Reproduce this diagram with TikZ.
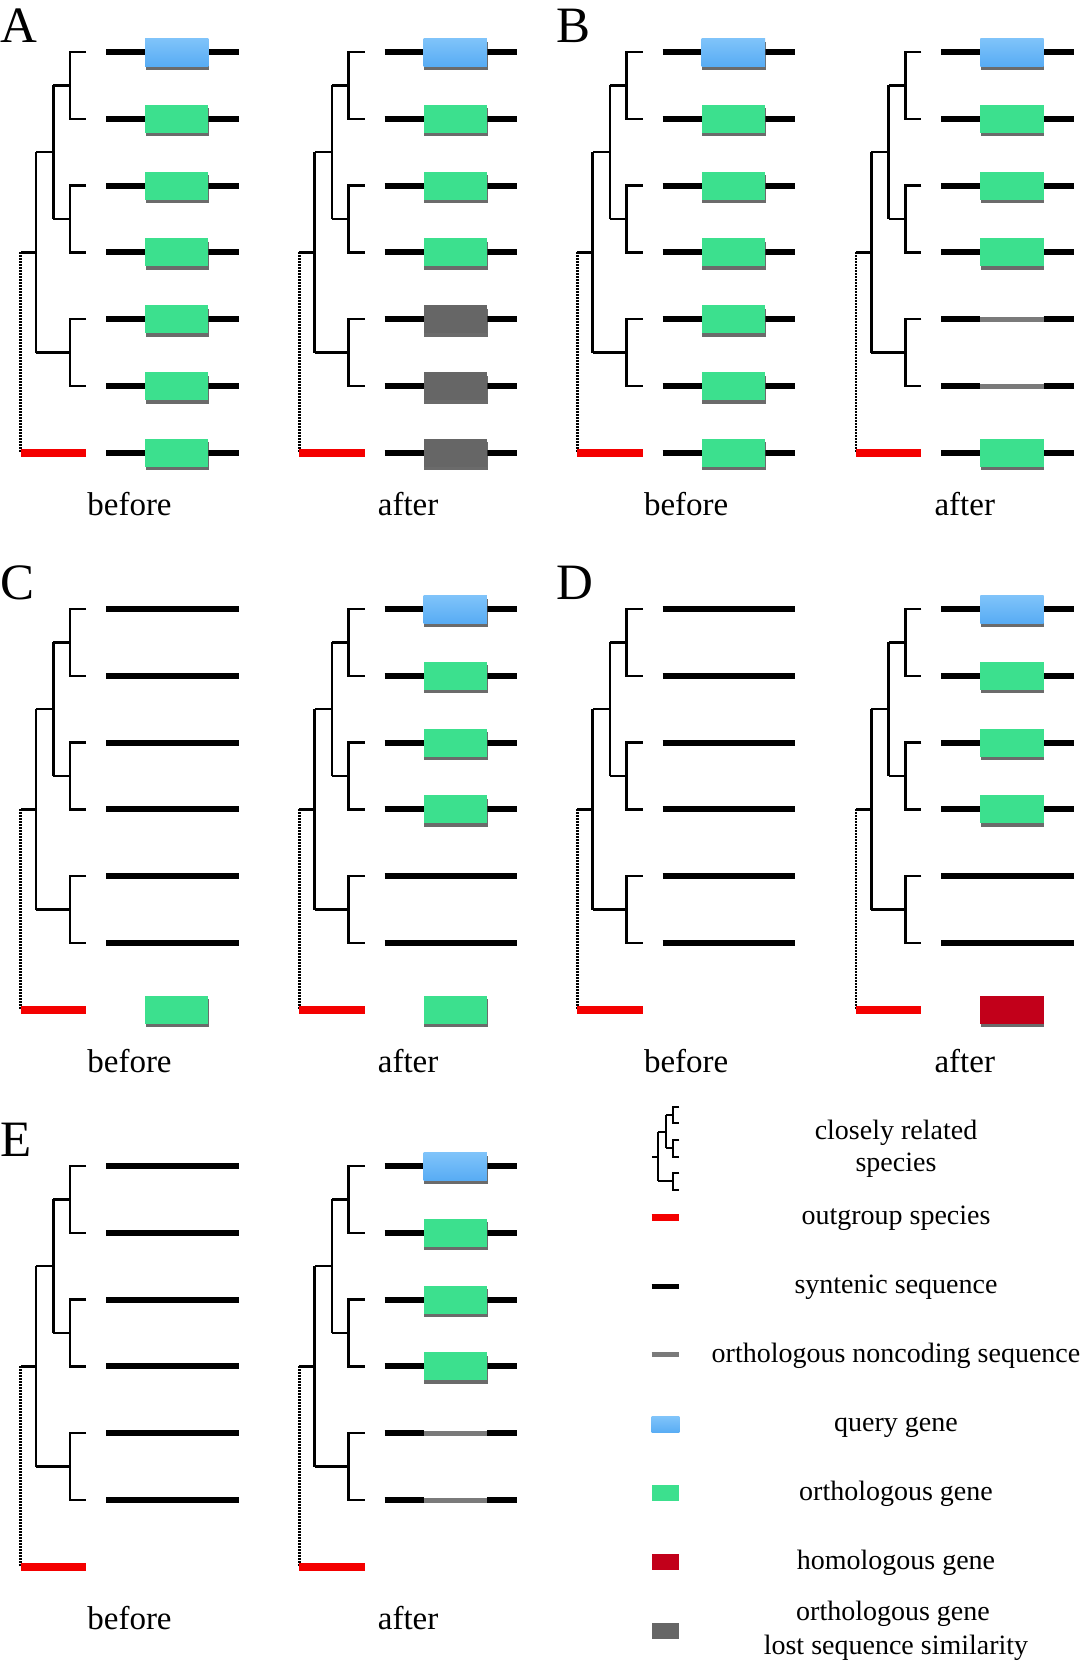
\documentclass[tikz,border=0pt]{standalone}
\usepackage{fontspec}
\setmainfont{Liberation Serif}
\usetikzlibrary{shadows}
\definecolor{qblue}{HTML}{58ACF4}
\definecolor{qbluetop}{HTML}{80C4FA}
\definecolor{ogreen}{HTML}{3CE08E}
\definecolor{lgray}{HTML}{666666}
\definecolor{hred}{HTML}{C2001A}
\definecolor{ncgray}{HTML}{7A7A7A}
\definecolor{ored}{HTML}{F40000}
\definecolor{shadowc}{HTML}{3A3A3A}
\tikzset{
 treeline/.style={line width=2.5pt, line join=miter},
 legtree/.style={line width=2pt, line join=miter},
 seqline/.style={line width=6pt},
 ncline/.style={line width=5pt, ncgray},
 outline/.style={line width=8pt, ored},
 dotline/.style={line width=2.6pt, dash pattern=on 1.6pt off 1.4pt},
 genebox/.style={drop shadow={shadow xshift=0.6pt, shadow yshift=-3.5pt, opacity=0.75, fill=shadowc}},
 querybox/.style={genebox, top color=qbluetop, bottom color=qblue},
 orthobox/.style={genebox, fill=ogreen},
 lostbox/.style={genebox, fill=lgray},
 homobox/.style={genebox, fill=hred},
 panellabel/.style={font=\fontsize{51}{51}\selectfont, anchor=base west, inner sep=0pt},
 statelabel/.style={font=\fontsize{33}{33}\selectfont, anchor=base, inner sep=0pt},
 legendtext/.style={font=\fontsize{28}{28}\selectfont, anchor=base, inner sep=0pt},
}
% rows
\def\rA{52}\def\rB{118.8}\def\rC{185.6}\def\rD{252.4}\def\rE{319.2}\def\rF{386}\def\rG{452.8}
\newcommand\phylo{%
 \draw[treeline] (86,\rA) -- (70,\rA) -- (70,\rB) -- (86,\rB);
 \draw[treeline] (70,85.4) -- (53.3,85.4);
 \draw[treeline] (86,\rC) -- (70,\rC) -- (70,\rD) -- (86,\rD);
 \draw[treeline] (70,219) -- (53.3,219);
 \draw[treeline] (53.3,85.4) -- (53.3,219);
 \draw[treeline] (53.3,152.2) -- (36,152.2);
 \draw[treeline] (86,\rE) -- (70,\rE) -- (70,\rF) -- (86,\rF);
 \draw[treeline] (70,352.6) -- (36,352.6);
 \draw[treeline] (36,152.2) -- (36,352.6);
 \draw[treeline] (36,252.4) -- (20.7,252.4);
 \draw[dotline] (20.7,252.4) -- (20.7,\rG);
 \draw[outline] (20.7,\rG) -- (86,\rG);
}
\newcommand\seqat[1]{\draw[seqline] (106,#1) -- (238.7,#1);}
\newcommand\geneat[2]{\path[#2] (145,#1-14) rectangle (208.3,#1+14);}
\newcommand\ncseq[1]{\draw[seqline] (106,#1) -- (145,#1);\draw[ncline] (145,#1) -- (208.3,#1);\draw[seqline] (208.3,#1) -- (238.7,#1);}
\newcommand\fourseq{\seqat{\rA}\seqat{\rB}\seqat{\rC}\seqat{\rD}}
\newcommand\sixseq{\fourseq\seqat{\rE}\seqat{\rF}}
\newcommand\topgenes{\geneat{\rA}{querybox}\geneat{\rB}{orthobox}\geneat{\rC}{orthobox}\geneat{\rD}{orthobox}}
\begin{document}
\begin{tikzpicture}[x=1pt,y=-1pt]
\useasboundingbox[fill=white] (0,0) rectangle (1080,1663);
% ---------- Panel A
\begin{scope}[shift={(0,0)}]
 \phylo \sixseq \seqat{\rG}
 \topgenes \geneat{\rE}{orthobox}\geneat{\rF}{orthobox}\geneat{\rG}{orthobox}
\end{scope}
\begin{scope}[shift={(278.6,0)}]
 \phylo \sixseq \seqat{\rG}
 \topgenes \geneat{\rE}{lostbox}\geneat{\rF}{lostbox}\geneat{\rG}{lostbox}
\end{scope}
% ---------- Panel B
\begin{scope}[shift={(556.7,0)}]
 \phylo \sixseq \seqat{\rG}
 \topgenes \geneat{\rE}{orthobox}\geneat{\rF}{orthobox}\geneat{\rG}{orthobox}
\end{scope}
\begin{scope}[shift={(835.3,0)}]
 \phylo \fourseq \ncseq{\rE}\ncseq{\rF} \seqat{\rG}
 \topgenes \geneat{\rG}{orthobox}
\end{scope}
% ---------- Panel C
\begin{scope}[shift={(0,557)}]
 \phylo \sixseq \geneat{\rG}{orthobox}
\end{scope}
\begin{scope}[shift={(278.6,557)}]
 \phylo \sixseq \topgenes \geneat{\rG}{orthobox}
\end{scope}
% ---------- Panel D
\begin{scope}[shift={(556.7,557)}]
 \phylo \sixseq
\end{scope}
\begin{scope}[shift={(835.3,557)}]
 \phylo \sixseq \topgenes \geneat{\rG}{homobox}
\end{scope}
% ---------- Panel E
\begin{scope}[shift={(0,1114)}]
 \phylo \sixseq
\end{scope}
\begin{scope}[shift={(278.6,1114)}]
 \phylo \fourseq \ncseq{\rE}\ncseq{\rF} \topgenes
\end{scope}
% ---------- labels
\node[panellabel] (labA) at (0,42) {A};
\node[panellabel] (labB) at (556.7,42) {B};
\node[panellabel] (labC) at (0,599) {C};
\node[panellabel] (labD) at (556.7,599) {D};
\node[panellabel] (labE) at (0,1156) {E};
\node[statelabel] (Abef) at (129.5,515) {before};
\node[statelabel] (Aaft) at (408.1,515) {after};
\node[statelabel] (Bbef) at (686.2,515) {before};
\node[statelabel] (Baft) at (964.8,515) {after};
\node[statelabel] (Cbef) at (129.5,1072) {before};
\node[statelabel] (Caft) at (408.1,1072) {after};
\node[statelabel] (Dbef) at (686.2,1072) {before};
\node[statelabel] (Daft) at (964.8,1072) {after};
\node[statelabel] (Ebef) at (129.5,1629) {before};
\node[statelabel] (Eaft) at (408.1,1629) {after};
% ---------- legend
\draw[legtree] (679.3,1106.5) -- (673.3,1106.5) -- (673.3,1123.2) -- (679.3,1123.2);
\draw[legtree] (673.3,1114.85) -- (666,1114.85);
\draw[legtree] (679.3,1139.8) -- (673.3,1139.8) -- (673.3,1156.5) -- (679.3,1156.5);
\draw[legtree] (673.3,1148.15) -- (666,1148.15);
\draw[legtree] (666,1114.85) -- (666,1148.15);
\draw[legtree] (666,1131.5) -- (658.3,1131.5);
\draw[legtree] (679.3,1173.1) -- (673.3,1173.1) -- (673.3,1189.8) -- (679.3,1189.8);
\draw[legtree] (673.3,1181.45) -- (658.3,1181.45);
\draw[legtree] (658.3,1131.5) -- (658.3,1181.45);
\draw[legtree] (658.3,1156.5) -- (651.7,1156.5);
\draw[line width=7.3pt, ored] (651.7,1217.2) -- (679.3,1217.2);
\draw[line width=5.5pt] (651.7,1286.3) -- (679.3,1286.3);
\draw[line width=4.8pt, ncgray] (651.7,1354.4) -- (679.3,1354.4);
\fill[top color=qbluetop, bottom color=qblue] (651.7,1416.4) rectangle (679.3,1432.8);
\fill[ogreen] (651.7,1484.7) rectangle (679.3,1501.1);
\fill[hred] (651.7,1553.5) rectangle (679.3,1569.9);
\fill[lgray] (651.7,1622.9) rectangle (679.3,1639.3);
\node[legendtext] (t1a) at (896,1139.4) {closely related};
\node[legendtext] (t1b) at (896,1171.2) {species};
\node[legendtext] (t2) at (896,1224.6) {outgroup species};
\node[legendtext] (t3) at (896,1293) {syntenic sequence};
\node[legendtext] (t4) at (896,1362.4) {orthologous noncoding sequence};
\node[legendtext] (t5) at (896,1431.9) {query gene};
\node[legendtext] (t6) at (896,1500.2) {orthologous gene};
\node[legendtext] (t7) at (896,1569) {homologous gene};
\node[legendtext] (t8a) at (893,1620.9) {orthologous gene};
\node[legendtext] (t8b) at (896,1654.9) {lost sequence similarity};
\end{tikzpicture}
\end{document}
